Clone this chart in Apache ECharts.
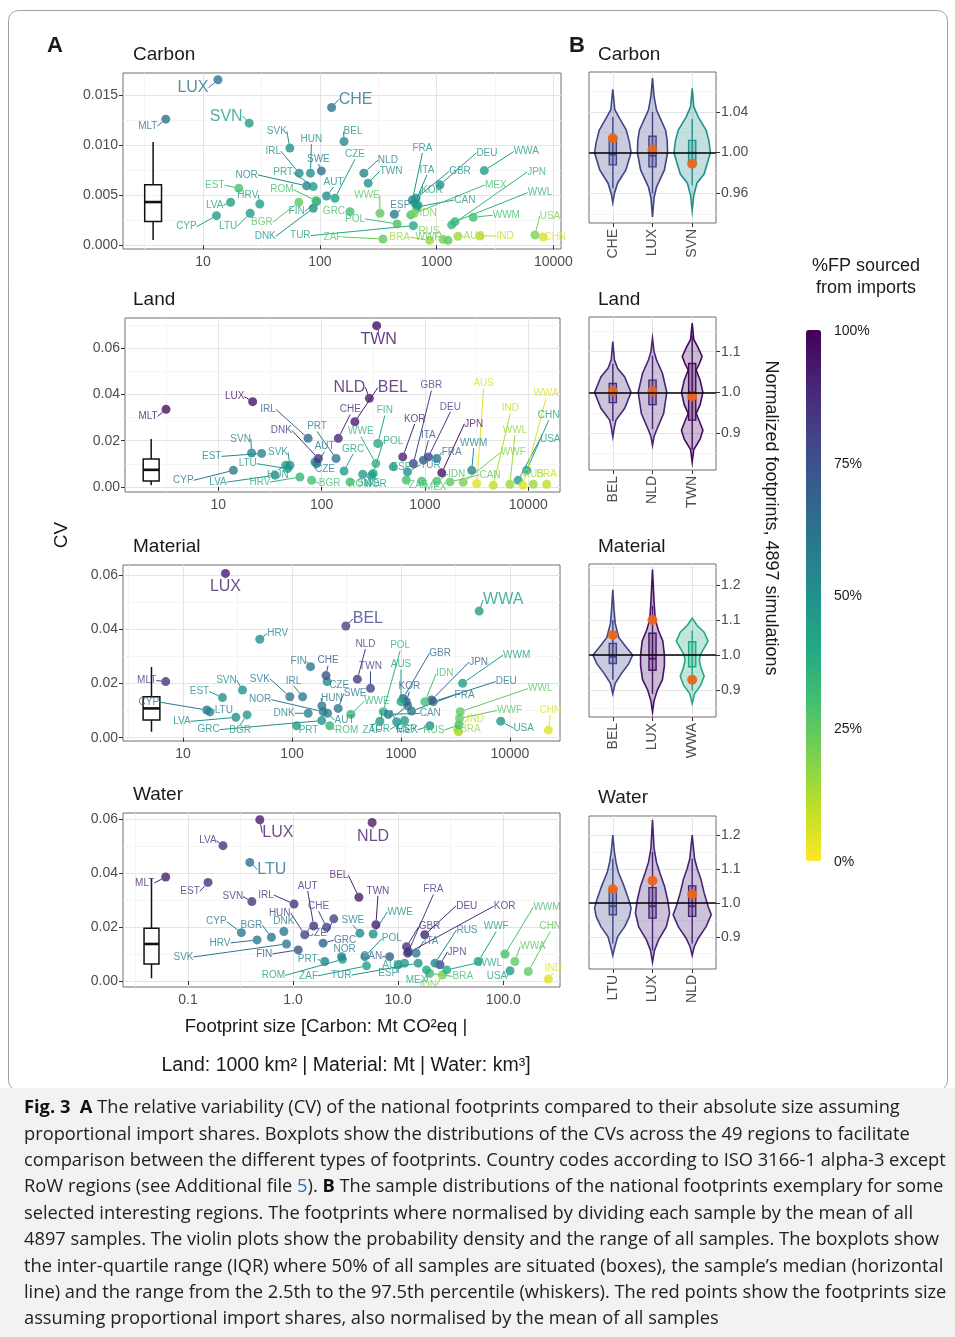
<!DOCTYPE html>
<html>
<head>
<meta charset="utf-8">
<script src="https://cdn.jsdelivr.net/npm/echarts@6/dist/echarts.min.js"></script>
<style>
  html, body { margin: 0; padding: 0; background: #fff; }
  #chart { width: 955px; height: 1337px; }
</style>
</head>
<body>
<div id="chart"></div>
<script>
// regions (ISO codes + RoW regions)
const regions = ['AUT','BEL','BGR','CYP','CZE','DEU','DNK','EST','ESP','FIN','FRA','GRC','HRV','HUN','IRL','ITA','LTU','LUX','LVA','MLT','NLD','POL','PRT','ROM','SWE','SVN','SVK','GBR','USA','JPN','CHN','CAN','KOR','BRA','IND','MEX','RUS','AUS','CHE','TUR','TWN','NOR','IDN','ZAF','WWA','WWL','WWE','WWF','WWM'];

// footprint size, CV and %FP sourced from imports, in the order of regions
const carbonSize = [114,161,66,13,134.6,1067,87.7,20.2,434,93.8,620,181,30.6,83,66.5,651,25.3,13.4,17.2,4.79,238,458,87.7,92.5,103,24.8,55.3,665,6950,1343,8180,677,692,870,2350,600,1132,1520,126,631,259,76.9,640,347,2557,1436,327,1250,2060];
const carbonCV = [.00494,.01039,.00431,.00297,.00471,.00605,.00371,.00572,.00311,.00439,.00454,.00337,.00414,.00722,.00722,.00424,.00321,.01657,.00431,.01263,.00722,.00214,.00588,.00447,.00745,.01223,.00973,.0047,.00103,.00204,.00083,.00384,.00402,.0005,.00093,.00304,.0006,.0009,.0138,.00197,.00622,.00595,.0032,.00063,.00748,.00237,.00321,.0005,.00281];
const carbonShare = [50,52,25,45,45,50,50,30,60,45,50,30,45,50,50,50,45,62,45,62,55,30,45,30,62,45,50,50,20,35,5,45,45,15,10,30,20,15,62,40,50,55,20,25,45,35,25,25,30];

const landSize = [89.6,210,80,14,86.3,1081,93,26.3,495,350,1300,165,61.6,45,74,966,47,21.5,35.4,3.12,290,316,138,188,250,21,49.4,773,8000,1456,9660,1750,610,15100,4590,930,11200,3170,145,678,341,305,1300,660,8900,6650,335,2350,2838];
const landCV = [.0101,.0282,.0029,.0072,.0108,.013,.0123,.0145,.0087,.0188,.0123,.0069,.0043,.0094,.021,.0116,.0079,.03685,.0051,.03355,.0383,.0058,.0123,.0022,.0055,.0147,.0094,.0101,.0029,.0061,.0072,.0022,.013,.0012,.0007,.0025,.0012,.0015,.021,.0065,.0697,.0051,.0025,.003,.0007,.0012,.0101,.002,.0072];
const landShare = [60,92,30,60,55,82,85,55,45,40,62,45,35,45,65,72,45,95,50,95,92,40,60,30,45,55,50,80,45,95,45,25,90,10,10,30,15,5,88,50,97,45,30,30,5,15,35,20,55];

const materialSize = [212,312,38.7,16.5,210,1978,140.6,23,912,148,1250,187,50.6,188,125,1150,17.6,24.5,30.5,6.93,398,686,110,222,265,35.1,95.5,1047,8220,1910,22500,764,1120,3370,3300,1845,3400,1000,205,1080,525,193,1655,640,5220,3500,347,3450,3680];
const materialCV = [.009,.0412,.0084,.0102,.0207,.0133,.009,.0148,.0059,.0262,.0098,.0063,.0363,.0117,.0151,.0118,.0095,.0606,.0075,.0207,.0216,.0096,.0044,.0044,.0108,.0176,.0151,.0145,.0061,.0139,.0028,.0086,.0133,.0022,.003,.0044,.0047,.0133,.0229,.0063,.0182,.0096,.0133,.0061,.0467,.0096,.0086,.0071,.0201];
const materialShare = [55,80,45,60,55,60,55,50,50,60,60,50,50,60,60,60,55,92,50,85,82,35,45,35,60,50,60,65,50,70,5,55,70,15,10,50,30,40,75,45,80,60,30,45,45,25,35,25,45];

const waterSize = [1.57,4.23,.622,.322,2.44,17.9,.817,.155,10,1.12,12.5,1.93,.454,1.29,1.02,14.8,.387,.482,.215,.0613,5.65,4.82,2.0,2.95,4.32,.405,.865,12,116,25,173,8.3,12.3,20,269,18.6,22.4,11.5,2.08,15.5,6.14,2.89,26.3,5.0,129,29,5.78,57.8,104];
const waterCV = [.0204,.031,.0162,.0179,.023,.0171,.0183,.0365,.006,.0115,.0109,.014,.0152,.0171,.0285,.0103,.0439,.0597,.0501,.0385,.0587,.009,.0072,.008,.0177,.0294,.0137,.0127,.0038,.006,.0035,.009,.0103,.0028,.0007,.0041,.0066,.0066,.0199,.0066,.0208,.009,.0022,.0056,.0072,.0041,.0174,.0072,.01];
const waterShare = [85,92,60,60,80,90,60,85,50,75,80,70,60,80,85,60,62,92,85,92,92,55,55,45,55,85,60,85,45,80,25,70,85,30,5,40,55,45,80,50,92,55,20,45,25,40,50,45,30];

// boxplots of the CVs: [low whisker, q1, median, q3, high whisker]
const boxCarbon = [0.00054, 0.00238, 0.00433, 0.00607, 0.01034];
const boxLand = [0.0007, 0.0026, 0.0074, 0.0121, 0.0207];
const boxMaterial = [0.0022, 0.0065, 0.0108, 0.0151, 0.0261];
const boxWater = [0.001, 0.0063, 0.0137, 0.0195, 0.038];

// axis ticks
const xTicksA = [[10,100,1000,10000],[10,100,1000,10000],[10,100,1000,10000],[0.1,1,10,100]];
const yTicksA = [[0,0.005,0.010,0.015],[0,0.02,0.04,0.06],[0,0.02,0.04,0.06],[0,0.02,0.04,0.06]];

// panel B: selected regions
const catsB = [['CHE','LUX','SVN'],['BEL','NLD','TWN'],['BEL','LUX','WWA'],['LTU','LUX','NLD']];
const sharesB = [[78,80,50],[88,90,97],[80,95,40],[78,90,90]];
// violin outlines: [normalized footprint, half density width]
const violinsB = [
  [
    [[0.951,0],[0.96,0.04],[0.97,0.12],[0.983,0.33],[1.0,0.46],[1.01,0.42],[1.022,0.34],[1.035,0.15],[1.042,0.05],[1.062,0]],
    [[0.937,0],[0.956,0.04],[0.966,0.1],[0.983,0.3],[1.0,0.38],[1.012,0.37],[1.022,0.33],[1.042,0.1],[1.055,0.04],[1.073,0]],
    [[0.943,0],[0.958,0.04],[0.97,0.12],[0.979,0.3],[1.0,0.46],[1.012,0.42],[1.022,0.35],[1.035,0.15],[1.045,0.04],[1.063,0]]
  ],
  [
    [[0.891,0],[0.915,0.04],[0.932,0.08],[0.961,0.3],[1.0,0.46],[1.038,0.3],[1.059,0.12],[1.08,0.04],[1.125,0]],
    [[0.87,0],[0.892,0.04],[0.907,0.1],[0.948,0.28],[1.0,0.36],[1.047,0.25],[1.08,0.1],[1.1,0.04],[1.133,0]],
    [[0.829,0],[0.86,0.04],[0.885,0.2],[0.907,0.27],[0.93,0.18],[0.948,0.1],[0.97,0.2],[1.0,0.27],[1.03,0.2],[1.055,0.1],[1.07,0.18],[1.088,0.25],[1.11,0.15],[1.13,0.04],[1.17,0]]
  ],
  [
    [[0.89,0],[0.92,0.06],[0.948,0.22],[0.975,0.4],[1.0,0.5],[1.025,0.32],[1.05,0.15],[1.09,0.06],[1.13,0.03],[1.186,0]],
    [[0.838,0],[0.87,0.04],[0.9,0.12],[0.93,0.25],[0.97,0.3],[1.0,0.3],[1.04,0.26],[1.07,0.15],[1.1,0.07],[1.15,0.04],[1.243,0]],
    [[0.862,0],[0.89,0.06],[0.915,0.22],[0.94,0.3],[0.965,0.22],[0.985,0.18],[1.0,0.2],[1.02,0.3],[1.04,0.4],[1.065,0.3],[1.085,0.12],[1.105,0]]
  ],
  [
    [[0.845,0],[0.87,0.05],[0.9,0.12],[0.93,0.3],[0.96,0.42],[0.985,0.46],[1.01,0.4],[1.05,0.28],[1.09,0.14],[1.12,0.08],[1.15,0.04],[1.2,0]],
    [[0.825,0],[0.86,0.05],[0.89,0.15],[0.93,0.35],[0.97,0.43],[1.01,0.38],[1.05,0.3],[1.09,0.18],[1.12,0.1],[1.16,0.04],[1.245,0]],
    [[0.845,0],[0.87,0.05],[0.895,0.15],[0.93,0.35],[0.965,0.48],[0.99,0.4],[1.03,0.3],[1.07,0.22],[1.1,0.13],[1.13,0.06],[1.2,0]]
  ]
];
// sample boxplots: [2.5th, q1, median, q3, 97.5th]
const boxesB = [
  [[0.965,0.988,0.998,1.015,1.035],[0.96,0.986,0.997,1.016,1.04],[0.968,0.99,1.0,1.012,1.033]],
  [[0.93,0.975,1.0,1.022,1.07],[0.91,0.97,0.998,1.03,1.09],[0.86,0.932,1.0,1.071,1.14]],
  [[0.93,0.976,0.995,1.033,1.1],[0.89,0.957,0.99,1.062,1.14],[0.9,0.967,1.0,1.038,1.07]],
  [[0.88,0.965,0.99,1.04,1.13],[0.86,0.955,0.99,1.045,1.15],[0.88,0.96,0.99,1.05,1.13]]
];
// footprint with proportional import shares, normalized
const redsB = [[1.014,1.003,0.989],[1.003,1.003,0.99],[1.057,1.1,0.93],[1.04,1.065,1.025]];
const yTicksB = [[0.96,1.00,1.04],[0.9,1.0,1.1],[0.9,1.0,1.1,1.2],[0.9,1.0,1.1,1.2]];

const panelNames = ['Carbon','Land','Material','Water'];
const sizes = [carbonSize, landSize, materialSize, waterSize];
const cvs = [carbonCV, landCV, materialCV, waterCV];
const shares = [carbonShare, landShare, materialShare, waterShare];
const boxesA = [boxCarbon, boxLand, boxMaterial, boxWater];

// ---------- layout ----------
const FONT = 'Liberation Sans';
const CAPFONT = 'Open Sans';
const gridA = [
  {left:123, top:73, width:438, height:176},
  {left:125, top:318, width:435, height:174},
  {left:123, top:565, width:437, height:176},
  {left:123, top:813, width:437, height:174}
];
const gridB = [
  {left:589, top:72, width:127, height:151},
  {left:589, top:317, width:127, height:153},
  {left:589, top:564, width:127, height:153},
  {left:589, top:816, width:127, height:153}
];
const xRangeA = [[2.06, 11610], [1.25, 20300], [2.81, 28800], [0.02404, 347]];
const yRangeA = [[-0.00037, 0.01725], [-0.00217, 0.073], [-0.00122, 0.0637], [-0.00223, 0.0622]];
const yRangeB = [[0.931, 1.079], [0.8096, 1.185], [0.824, 1.259], [0.805, 1.256]];
const boxPosA = [3.73, 2.24, 5.13, 0.0449];   // x position of the CV boxplot
const boxHalfA = [0.072, 0.077, 0.077, 0.071]; // half width in decades

// label offsets (px, label centre relative to point)
const offsets = [
  {AUT:[7,-14],BEL:[9,-10],BGR:[-37,20],CYP:[-30,11],CZE:[20,-44],DEU:[47,-32],DNK:[-48,28],EST:[-24,-3],ESP:[6,-9],FIN:[-20,10],FRA:[10,-52],GRC:[-16,0],HRV:[-12,-9],HUN:[1,-34],IRL:[-26,-22],ITA:[12,-33],LTU:[-22,13],LUX:[-25,8],LVA:[-16,3],MLT:[-18,7],NLD:[24,-13],POL:[-42,-5],PRT:[-30,-14],ROM:[-34,-11],SWE:[-3,-12],SVN:[-23,-7],SVK:[-13,-17],GBR:[44,-27],USA:[15,-19],JPN:[85,-53],CHN:[12,0],CAN:[48,-7],KOR:[14,-15],BRA:[-30,-3],IND:[25,0],MEX:[85,-30],RUS:[-14,-8],AUS:[16,0],CHE:[24,-8],TUR:[-113,10],TWN:[23,-12],NOR:[-60,-11],IDN:[14,0],ZAF:[-50,-2],WWA:[42,-19],WWL:[85,-29],WWE:[-13,-18],WWF:[-20,-3],WWM:[33,-2]},
  {AUT:[8,-17],BEL:[38,-34],BGR:[18,3],CYP:[-50,10],CZE:[10,7],DEU:[22,-50],DNK:[-37,-28],EST:[-50,3],ESP:[8,0],FIN:[7,-33],FRA:[15,-6],GRC:[9,-22],HRV:[-40,5],HUN:[-8,10],IRL:[-40,-29],ITA:[5,-25],LTU:[-40,-5],LUX:[-18,-5],LVA:[-57,7],MLT:[-18,7],NLD:[-20,-11],POL:[20,-32],PRT:[-19,-32],ROM:[10,2],SWE:[6,9],SVN:[-11,-14],SVK:[-12,-13],GBR:[18,-78],USA:[32,-41],JPN:[32,-49],CHN:[22,-55],CAN:[40,-7],KOR:[12,-38],BRA:[0,-10],IND:[17,-77],MEX:[14,6],RUS:[0,-10],AUS:[7,-100],CHE:[12,-29],TUR:[23,-7],TWN:[2,14],NOR:[4,9],IDN:[20,-7],ZAF:[12,5],WWA:[23,-92],WWL:[5,-54],WWE:[-15,-32],WWF:[50,-30],WWM:[2,-27]},
  {AUT:[17,7],BEL:[22,-7],BGR:[-7,15],CYP:[-58,-8],CZE:[12,4],DEU:[73,-20],DNK:[-24,0],EST:[-23,-6],ESP:[10,8],FIN:[-12,-5],FRA:[53,-16],GRC:[-113,9],HRV:[18,-6],HUN:[10,-8],IRL:[-9,-16],ITA:[-20,10],LTU:[14,-2],LUX:[0,13],LVA:[-54,4],MLT:[-19,-1],NLD:[8,-35],POL:[17,-66],PRT:[12,4],ROM:[17,4],SWE:[17,-15],SVN:[-16,-10],SVK:[-30,-18],GBR:[37,-45],USA:[23,7],JPN:[47,-38],CHN:[2,-20],CAN:[42,-1],KOR:[3,-15],BRA:[12,-2],IND:[18,-10],MEX:[-23,4],RUS:[-25,5],AUS:[0,-37],CHE:[2,-15],TUR:[-25,9],TWN:[0,-22],NOR:[-63,-12],IDN:[20,-28],ZAF:[-8,9],WWA:[24,-11],WWL:[80,-23],WWE:[26,-13],WWF:[50,-8],WWM:[54,-28]},
  {AUT:[-6,-40],BEL:[-20,-22],BGR:[-20,-12],CYP:[-25,-11],CZE:[-17,14],DEU:[42,-29],DNK:[0,-10],EST:[-18,9],ESP:[-10,8],FIN:[-34,4],FRA:[25,-62],GRC:[22,-3],HRV:[-37,3],HUN:[-25,-22],IRL:[-28,-9],ITA:[15,-12],LTU:[22,7],LUX:[18,13],LVA:[-15,-5],MLT:[-21,6],NLD:[1,14],POL:[27,-18],PRT:[-17,-2],ROM:[-69,16],SWE:[-7,-13],SVN:[-19,-5],SVK:[-103,13],GBR:[23,-20],USA:[-13,6],JPN:[17,-13],CHN:[22,-45],CAN:[-18,0],KOR:[97,-47],BRA:[33,3],IND:[5,-11],MEX:[-10,10],RUS:[32,-33],AUS:[-12,2],CHE:[-8,-21],TUR:[-77,12],TWN:[2,-34],NOR:[3,-7],IDN:[-14,10],ZAF:[-58,10],WWA:[18,-15],WWL:[43,-7],WWE:[27,-22],WWF:[18,-35],WWM:[42,-47]}
];

// ---------- colours ----------
const viridis = ['#440154','#482475','#414487','#355f8d','#2a788e','#21918c','#22a884','#44bf70','#7ad151','#bddf26','#fde725'];
function hexRgb(c) { return [parseInt(c.slice(1,3),16), parseInt(c.slice(3,5),16), parseInt(c.slice(5,7),16)]; }
function shareRgb(s) {
  const t = Math.max(0, Math.min(1, 1 - s / 100)) * 10;
  const i = Math.min(9, Math.floor(t));
  const f = t - i;
  const a = hexRgb(viridis[i]), b = hexRgb(viridis[i + 1]);
  return a.map((v, k) => Math.round(v + (b[k] - v) * f));
}
function shareColor(s, alpha) {
  const c = shareRgb(s);
  return alpha == null ? 'rgb(' + c.join(',') + ')' : 'rgba(' + c.join(',') + ',' + alpha + ')';
}

// ---------- axes ----------
const tickStyle = { show: true, length: 4, lineStyle: { color: '#333', width: 1 } };
const labelStyle = { color: '#4d4d4d', fontSize: 14, fontFamily: FONT };
const majorGrid = { show: true, lineStyle: { color: '#e4e4e4', width: 1 } };
const minorGrid = { show: true, lineStyle: { color: '#f3f3f3', width: 0.8 } };

function logMinors(ticks, range) {
  const out = [];
  const l = ticks.map(Math.log10);
  const cand = [l[0] - 0.5].concat(l.map(v => v + 0.5));
  cand.forEach(v => { const r = Math.pow(10, v); if (r > range[0] && r < range[1]) out.push(r); });
  return out;
}
function linMinors(ticks, range) {
  const step = ticks[1] - ticks[0];
  const out = [];
  const cand = [ticks[0] - step / 2].concat(ticks.map(v => v + step / 2));
  cand.forEach(v => { if (v > range[0] && v < range[1]) out.push(+v.toFixed(6)); });
  return out;
}

const grids = [], xAxes = [], yAxes = [];
gridA.forEach((g, p) => {
  grids.push(Object.assign({ show: true, borderColor: '#6e6e6e', borderWidth: 1, backgroundColor: '#fff' }, g));
  const water = p === 3;
  xAxes.push({
    gridIndex: p, type: 'log', min: xRangeA[p][0], max: xRangeA[p][1],
    axisLine: { show: false },
    axisTick: Object.assign({ customValues: xTicksA[p] }, tickStyle),
    axisLabel: Object.assign({ customValues: xTicksA[p], margin: 6,
      formatter: v => water ? Number(v).toFixed(1) : String(Math.round(v)) }, labelStyle),
    splitLine: majorGrid
  });
  xAxes.push({
    gridIndex: p, type: 'log', min: xRangeA[p][0], max: xRangeA[p][1],
    axisLine: { show: false }, axisTick: { show: false, customValues: logMinors(xTicksA[p], xRangeA[p]) },
    axisLabel: { show: false }, splitLine: minorGrid
  });
  const dec = p === 0 ? 3 : 2;
  yAxes.push({
    gridIndex: p, type: 'value', min: yRangeA[p][0], max: yRangeA[p][1],
    axisLine: { show: false },
    axisTick: Object.assign({ customValues: yTicksA[p] }, tickStyle),
    axisLabel: Object.assign({ customValues: yTicksA[p], margin: 5, formatter: v => Number(v).toFixed(dec) }, labelStyle),
    splitLine: majorGrid
  });
  yAxes.push({
    gridIndex: p, type: 'value', min: yRangeA[p][0], max: yRangeA[p][1], position: 'left',
    axisLine: { show: false }, axisTick: { show: false, customValues: linMinors(yTicksA[p], yRangeA[p]) },
    axisLabel: { show: false }, splitLine: minorGrid
  });
});
gridB.forEach((g, p) => {
  const gi = 4 + p;
  grids.push(Object.assign({ show: true, borderColor: '#6e6e6e', borderWidth: 1, backgroundColor: '#fff' }, g));
  xAxes.push({
    gridIndex: gi, type: 'value', min: 0.4, max: 3.6,
    axisLine: { show: false },
    axisTick: Object.assign({ customValues: [1, 2, 3] }, tickStyle),
    axisLabel: Object.assign({ customValues: [1, 2, 3], rotate: 90, margin: 6,
      formatter: v => catsB[p][Math.round(v) - 1] }, labelStyle),
    splitLine: majorGrid
  });
  xAxes.push({ gridIndex: gi, type: 'value', min: 0.4, max: 3.6, show: false });
  const dec = p === 0 ? 2 : 1;
  yAxes.push({
    gridIndex: gi, type: 'value', position: 'right', min: yRangeB[p][0], max: yRangeB[p][1],
    axisLine: { show: false },
    axisTick: Object.assign({ customValues: yTicksB[p] }, tickStyle),
    axisLabel: Object.assign({ customValues: yTicksB[p], margin: 5, formatter: v => Number(v).toFixed(dec) }, labelStyle),
    splitLine: majorGrid
  });
  yAxes.push({
    gridIndex: gi, type: 'value', position: 'right', min: yRangeB[p][0], max: yRangeB[p][1],
    axisLine: { show: false }, axisTick: { show: false, customValues: linMinors(yTicksB[p], yRangeB[p]) },
    axisLabel: { show: false }, splitLine: minorGrid
  });
});

// ---------- series ----------
const series = [];
// CV boxplots (panel A)
boxesA.forEach((b, p) => {
  series.push({
    type: 'custom', xAxisIndex: p * 2, yAxisIndex: p * 2, z: 2, silent: true,
    data: [[boxPosA[p], b[0], b[1], b[2], b[3], b[4]]],
    encode: { x: 0, y: [1, 5] },
    renderItem: function (params, api) {
      const c = api.value(0);
      const f = Math.pow(10, boxHalfA[p]);
      const lo = api.coord([c, api.value(1)]), hi = api.coord([c, api.value(5)]);
      const tl = api.coord([c / f, api.value(4)]), br = api.coord([c * f, api.value(2)]);
      const ml = api.coord([c / f, api.value(3)]), mr = api.coord([c * f, api.value(3)]);
      const q3 = api.coord([c, api.value(4)]), q1 = api.coord([c, api.value(2)]);
      const st = { stroke: '#111', lineWidth: 1.5 };
      return { type: 'group', children: [
        { type: 'line', shape: { x1: hi[0], y1: hi[1], x2: q3[0], y2: q3[1] }, style: st },
        { type: 'line', shape: { x1: q1[0], y1: q1[1], x2: lo[0], y2: lo[1] }, style: st },
        { type: 'rect', shape: { x: tl[0], y: tl[1], width: br[0] - tl[0], height: br[1] - tl[1] }, style: { fill: 'rgba(255,255,255,0.6)', stroke: '#111', lineWidth: 1.5 } },
        { type: 'line', shape: { x1: ml[0], y1: ml[1], x2: mr[0], y2: mr[1] }, style: { stroke: '#111', lineWidth: 2.6 } }
      ] };
    }
  });
});
// country scatter (panel A)
sizes.forEach((sz, p) => {
  const big = catsB[p];
  series.push({
    type: 'scatter', xAxisIndex: p * 2, yAxisIndex: p * 2, z: 3,
    symbolSize: 9,
    data: regions.map((c, i) => {
      const col = shareColor(shares[p][i]);
      return {
        name: c, value: [sz[i], cvs[p][i], shares[p][i]],
        itemStyle: { color: col },
        label: { color: col, fontSize: big.indexOf(c) >= 0 ? 16 : 10 },
        labelLine: { lineStyle: { color: col } }
      };
    }),
    label: { show: true, position: 'inside', formatter: '{b}', fontFamily: FONT },
    labelLine: { show: true, lineStyle: { width: 1 } },
    labelLayout: function (params) {
      const o = offsets[p][regions[params.dataIndex]] || [0, 0];
      return { dx: o[0], dy: o[1] };
    }
  });
});
// violins (panel B)
catsB.forEach((cats, p) => {
  const gi = 4 + p;
  series.push({
    type: 'custom', xAxisIndex: gi * 2, yAxisIndex: gi * 2, z: 2, silent: true,
    data: cats.map((c, i) => [i + 1, boxesB[p][i][2]]),
    encode: { x: 0, y: 1 },
    renderItem: function (params, api) {
      const i = params.dataIndex;
      const cx = api.value(0);
      const prof = violinsB[p][i];
      const col = shareColor(sharesB[p][i]);
      const pts = [];
      prof.forEach(d => pts.push(api.coord([cx + d[1], d[0]])));
      for (let k = prof.length - 1; k >= 0; k--) pts.push(api.coord([cx - prof[k][1], prof[k][0]]));
      const b = boxesB[p][i];
      const lo = api.coord([cx, b[0]]), hi = api.coord([cx, b[4]]);
      const tl = api.coord([cx - 0.09, b[3]]), br = api.coord([cx + 0.09, b[1]]);
      const ml = api.coord([cx - 0.09, b[2]]), mr = api.coord([cx + 0.09, b[2]]);
      return { type: 'group', children: [
        { type: 'polygon', shape: { points: pts }, style: { fill: shareColor(sharesB[p][i], 0.28), stroke: col, lineWidth: 1.6 } },
        { type: 'line', shape: { x1: lo[0], y1: lo[1], x2: hi[0], y2: hi[1] }, style: { stroke: col, lineWidth: 1.4 } },
        { type: 'rect', shape: { x: tl[0], y: tl[1], width: br[0] - tl[0], height: br[1] - tl[1] }, style: { fill: shareColor(sharesB[p][i], 0.3), stroke: col, lineWidth: 1.4 } },
        { type: 'line', shape: { x1: ml[0], y1: ml[1], x2: mr[0], y2: mr[1] }, style: { stroke: col, lineWidth: 1.8 } }
      ] };
    },
    markLine: {
      silent: true, symbol: ['none', 'none'], label: { show: false },
      lineStyle: { color: '#000', width: 1.5, type: 'solid' },
      data: [{ yAxis: 1 }]
    }
  });
});
// proportional-share points (panel B)
redsB.forEach((r, p) => {
  const gi = 4 + p;
  series.push({
    type: 'scatter', xAxisIndex: gi * 2, yAxisIndex: gi * 2, z: 4, silent: true,
    symbolSize: 10, itemStyle: { color: '#e8661c', opacity: 0.95 },
    data: r.map((v, i) => [i + 1, v])
  });
});
// holder for the colour bar
series.push({ type: 'scatter', xAxisIndex: 0, yAxisIndex: 0, data: [] });
const barSeries = series.length - 1;

// ---------- text ----------
const T = (text, x, y, size, opt) => Object.assign({
  type: 'text', x: x, y: y, silent: true,
  style: Object.assign({ text: text, fontSize: size, fontFamily: FONT, fill: '#1a1a1a', align: 'left', verticalAlign: 'top' }, (opt && opt.style) || {})
}, opt && opt.rotation != null ? { rotation: opt.rotation } : {});

const graphics = [
  { type: 'rect', silent: true, shape: { x: 8.5, y: 10.5, width: 939, height: 1080, r: 10 }, style: { fill: 'none', stroke: '#a0a0a0', lineWidth: 1 } },
  { type: 'rect', silent: true, shape: { x: 0, y: 1088, width: 955, height: 249 }, style: { fill: '#f2f2f2' } },
  T('A', 47, 35, 22, { style: { fontWeight: 'bold' } }),
  T('B', 569, 35, 22, { style: { fontWeight: 'bold' } }),
  T('Carbon', 133, 45, 19), T('Land', 133, 290, 19), T('Material', 133, 537, 19), T('Water', 133, 785, 19),
  T('Carbon', 598, 45, 19), T('Land', 598, 290, 19), T('Material', 598, 537, 19), T('Water', 598, 788, 19),
  T('CV', 62, 535, 19, { rotation: Math.PI / 2, style: { align: 'center', verticalAlign: 'middle' } }),
  T('Normalized footprints, 4897 simulations', 771, 518, 18, { rotation: -Math.PI / 2, style: { align: 'center', verticalAlign: 'middle' } }),
  T('Footprint size [Carbon: Mt CO\u00b2eq |', 326, 1027, 18.5, { style: { align: 'center', verticalAlign: 'middle' } }),
  T('Land: 1000 km\u00b2 | Material: Mt | Water: km\u00b3]', 346, 1066, 19.5, { style: { align: 'center', verticalAlign: 'middle' } }),
  T('%FP sourced', 866, 266, 18, { style: { align: 'center', verticalAlign: 'middle' } }),
  T('from imports', 866, 288, 18, { style: { align: 'center', verticalAlign: 'middle' } })
];
['100%', '75%', '50%', '25%', '0%'].forEach((t, i) => {
  graphics.push(T(t, 834, 331 + i * 132.75, 14, { style: { verticalAlign: 'middle' } }));
});

const captionLines = [
  '{b|Fig. 3}  {b|A} The relative variability (CV) of the national footprints compared to their absolute size assuming',
  'proportional import shares. Boxplots show the distributions of the CVs across the 49 regions to facilitate',
  'comparison between the different types of footprints. Country codes according to ISO 3166-1 alpha-3 except',
  'RoW regions (see Additional file {l|5}). {b|B} The sample distributions of the national footprints exemplary for some',
  'selected interesting regions. The footprints where normalised by dividing each sample by the mean of all',
  '4897 samples. The violin plots show the probability density and the range of all samples. The boxplots show',
  'the inter-quartile range (IQR) where 50% of all samples are situated (boxes), the sample\u2019s median (horizontal',
  'line) and the range from the 2.5th to the 97.5th percentile (whiskers). The red points show the footprints size',
  'assuming proportional import shares, also normalised by the mean of all samples'
];
const capSize = 18.3;
captionLines.forEach((line, i) => {
  graphics.push({
    type: 'text', x: 24, y: 1108 + i * 26.4, silent: true,
    style: {
      text: line, fontSize: capSize, fontFamily: CAPFONT, fill: '#222', verticalAlign: 'middle',
      rich: {
        b: { fontWeight: 'bold', fontSize: capSize, fontFamily: CAPFONT, fill: '#111' },
        l: { fontSize: capSize, fontFamily: CAPFONT, fill: '#2a6ebb' }
      }
    }
  });
});

const chart = echarts.init(document.getElementById('chart'));
chart.setOption({
  animation: false,
  backgroundColor: '#fff',
  textStyle: { fontFamily: FONT },
  grid: grids,
  xAxis: xAxes,
  yAxis: yAxes,
  visualMap: {
    type: 'continuous', min: 0, max: 100, seriesIndex: barSeries,
    orient: 'vertical', left: 806, top: 330, padding: 0,
    itemWidth: 15, itemHeight: 531, calculable: false, hoverLink: false,
    inRange: { color: viridis.slice().reverse() }
  },
  series: series,
  graphic: graphics
});
</script>
</body>
</html>
